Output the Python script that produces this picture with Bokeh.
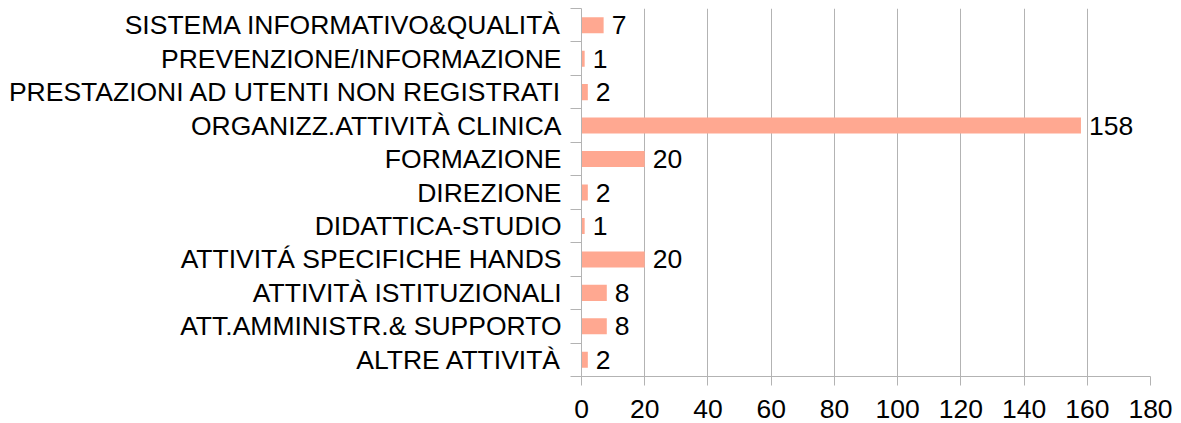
from bokeh.plotting import figure
from bokeh.models import ColumnDataSource, FixedTicker, Range1d
from bokeh.core.properties import value
from bokeh.embed import file_html
from bokeh.resources import INLINE

categories = [
    "ALTRE ATTIVITÀ",
    "ATT.AMMINISTR.& SUPPORTO",
    "ATTIVITÀ ISTITUZIONALI",
    "ATTIVITÁ SPECIFICHE HANDS",
    "DIDATTICA-STUDIO",
    "DIREZIONE",
    "FORMAZIONE",
    "ORGANIZZ.ATTIVITÀ CLINICA",
    "PRESTAZIONI AD UTENTI NON REGISTRATI",
    "PREVENZIONE/INFORMAZIONE",
    "SISTEMA INFORMATIVO&QUALITÀ",
]
values = [2, 8, 8, 20, 1, 2, 20, 158, 2, 1, 7]
x_ticks = [0, 20, 40, 60, 80, 100, 120, 140, 160, 180]

FONT = "Liberation Sans"
FS = "26.5px"
GRAY = "#b3b3b3"
BAR = "#ffa891"

n = len(categories)
ypos = [i + 0.5 for i in range(n)]
bounds = list(range(n + 1))

src = ColumnDataSource(dict(y=ypos, v=values, lab=[str(v) for v in values]))

p = figure(width=1181, height=423, output_backend="svg", toolbar_location=None,
           x_range=Range1d(0, 180), y_range=Range1d(0, n),
           min_border_left=581, min_border_right=31, min_border_top=8,
           min_border_bottom=47)
p.outline_line_color = None
p.background_fill_color = "white"

p.hbar(y="y", right="v", left=0, height=0.48, source=src, fill_color=BAR, line_color=None)
p.text(x="v", y="y", text="lab", source=src, x_offset=8, text_baseline="middle",
       text_align="left", text_font=value(FONT), text_font_size=FS, text_color="black")

# x axis
p.xaxis.ticker = FixedTicker(ticks=x_ticks, minor_ticks=[])
p.xaxis.axis_line_color = GRAY
p.xaxis.major_tick_line_color = GRAY
p.xaxis.major_tick_out = 9
p.xaxis.major_tick_in = 0
p.xaxis.minor_tick_line_color = None
p.xaxis.minor_tick_out = 0
p.xaxis.minor_tick_in = 0
p.xaxis.major_label_text_font = FONT
p.xaxis.major_label_text_font_size = FS
p.xaxis.major_label_text_color = "black"
p.xaxis.major_label_standoff = 14

p.xgrid.ticker = FixedTicker(ticks=x_ticks)
p.xgrid.grid_line_color = GRAY
p.ygrid.visible = False

# y axis
p.yaxis.ticker = FixedTicker(ticks=ypos, minor_ticks=bounds)
p.yaxis.major_label_overrides = {y: c for y, c in zip(ypos, categories)}
p.yaxis.axis_line_color = GRAY
p.yaxis.major_tick_line_color = None
p.yaxis.major_tick_out = 0
p.yaxis.major_tick_in = 0
p.yaxis.minor_tick_line_color = GRAY
p.yaxis.minor_tick_out = 11
p.yaxis.minor_tick_in = 0
p.yaxis.major_label_text_font = FONT
p.yaxis.major_label_text_font_size = FS
p.yaxis.major_label_text_color = "black"
p.yaxis.major_label_standoff = 9

open("out.html", "w").write(file_html(p, INLINE))
